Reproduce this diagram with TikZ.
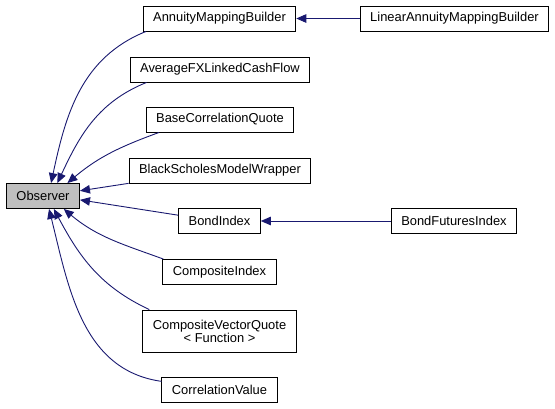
\documentclass[tikz,border=0pt]{standalone}
\usepackage{fontspec}
\setmainfont{Liberation Sans}
\usepackage{tikz}
\usetikzlibrary{arrows.meta}

\definecolor{edgeblue}{HTML}{191970}
\definecolor{basegray}{HTML}{BFBFBF}

\tikzset{
	cls/.style={shape=rectangle,draw=black,line width=0.9pt,inner xsep=10pt,inner ysep=0pt,minimum height=25pt,font=\fontsize{12.9}{14}\selectfont},
	inh/.style={draw=edgeblue,line width=0.9pt,{Triangle[length=10pt,width=8.5pt]}-}
}

\begin{document}
\begin{tikzpicture}[x=1pt,y=1pt]
	\useasboundingbox (0,0) rectangle (555,-408);

	\node[cls,fill=basegray] (obs) at (43, -196)     {Observer};
	\node[cls] (amb)  at (219.5, -18.5)  {AnnuityMappingBuilder};
	\node[cls] (lamb) at (454.5, -18.5)  {LinearAnnuityMappingBuilder};
	\node[cls] (afx)  at (220, -69.5)    {AverageFXLinkedCashFlow};
	\node[cls] (bcq)  at (220, -119.5)   {BaseCorrelationQuote};
	\node[cls] (bsmw) at (220, -170.5)   {BlackScholesModelWrapper};
	\node[cls] (bi)   at (219.5, -221)   {BondIndex};
	\node[cls] (bfi)  at (454, -221)     {BondFuturesIndex};
	\node[cls] (ci)   at (219.5, -272)   {CompositeIndex};
	\node[cls,align=center,minimum height=42pt] (cvq) at (219.5, -331) {CompositeVectorQuote\\[-1pt]< Function >};
	\node[cls] (cv)   at (219.5, -389.5) {CorrelationValue};

	\draw[inh] (obs.58)  to[out=78,in=202]  (amb.190);
	\draw[inh] (obs.42)  to[out=65,in=202]  (afx.190);
	\draw[inh] (obs.28)  to[out=40,in=200]  (bcq.192);
	\draw[inh] (obs.8)   -- (bsmw.188);
	\draw[inh] (obs.354) -- (bi.172);
	\draw[inh] (obs.328) to[out=-40,in=160] (ci.167);
	\draw[inh] (obs.310) to[out=-62,in=155] (cvq.163);
	\draw[inh] (obs.295) to[out=-76,in=172] (cv.172);
	\draw[inh] (amb) -- (lamb);
	\draw[inh] (bi) -- (bfi);

\end{tikzpicture}
\end{document}
